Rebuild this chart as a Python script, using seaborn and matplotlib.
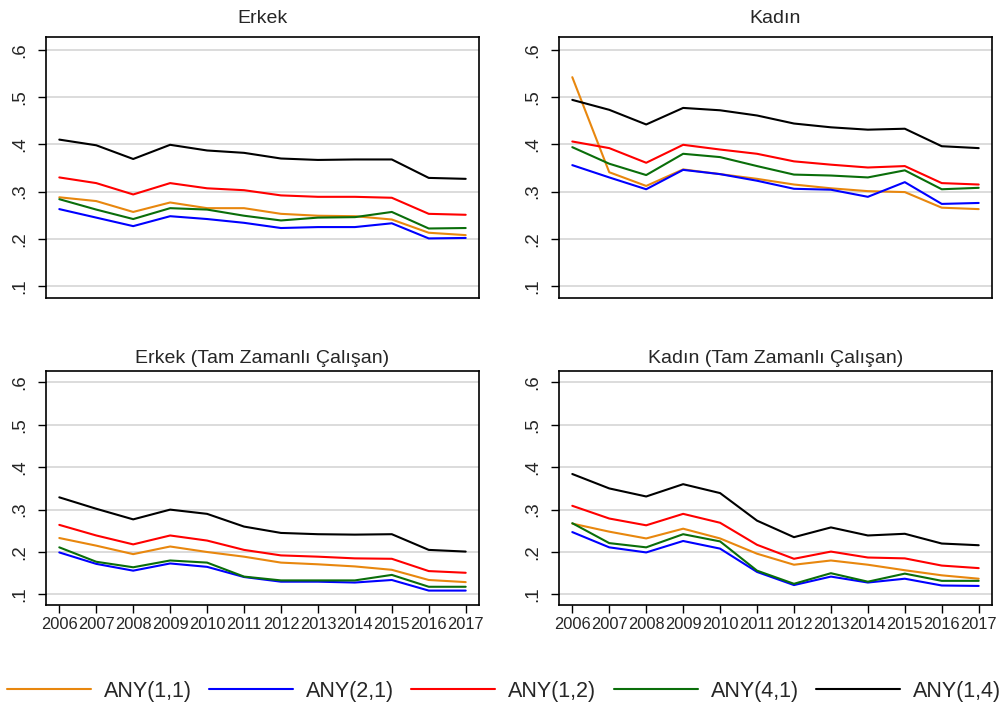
import pandas as pd
import matplotlib
matplotlib.use("Agg")
import matplotlib.pyplot as plt
import seaborn as sns

# Yillar ve seriler
years = list(range(2006, 2018))
series_labels = ["ANY(1,1)", "ANY(2,1)", "ANY(1,2)", "ANY(4,1)", "ANY(1,4)"]
series_colors = ["#E8870E", "#0000FF", "#FF0000", "#0A6E0A", "#000000"]
panel_titles = ["Erkek", "Kadın", "Erkek (Tam Zamanlı Çalışan)", "Kadın (Tam Zamanlı Çalışan)"]
y_ticks = [0.1, 0.2, 0.3, 0.4, 0.5, 0.6]
y_tick_labels = [".1", ".2", ".3", ".4", ".5", ".6"]

# Erkek
erkek_11 = [0.288, 0.280, 0.257, 0.277, 0.265, 0.265, 0.253, 0.249, 0.248, 0.241, 0.213, 0.208]
erkek_21 = [0.263, 0.245, 0.227, 0.248, 0.242, 0.234, 0.223, 0.225, 0.225, 0.233, 0.201, 0.202]
erkek_12 = [0.330, 0.318, 0.294, 0.318, 0.307, 0.303, 0.292, 0.289, 0.289, 0.287, 0.253, 0.251]
erkek_41 = [0.284, 0.262, 0.242, 0.265, 0.262, 0.249, 0.239, 0.245, 0.246, 0.257, 0.222, 0.223]
erkek_14 = [0.410, 0.398, 0.369, 0.399, 0.387, 0.382, 0.370, 0.367, 0.368, 0.368, 0.329, 0.327]

# Kadın
kadin_11 = [0.542, 0.341, 0.312, 0.347, 0.337, 0.327, 0.315, 0.307, 0.301, 0.299, 0.266, 0.263]
kadin_21 = [0.356, 0.330, 0.305, 0.346, 0.337, 0.323, 0.306, 0.304, 0.289, 0.320, 0.274, 0.276]
kadin_12 = [0.406, 0.392, 0.361, 0.399, 0.389, 0.380, 0.364, 0.357, 0.351, 0.354, 0.318, 0.315]
kadin_41 = [0.394, 0.359, 0.335, 0.380, 0.373, 0.354, 0.336, 0.334, 0.330, 0.345, 0.305, 0.308]
kadin_14 = [0.494, 0.473, 0.442, 0.477, 0.472, 0.461, 0.444, 0.436, 0.431, 0.433, 0.396, 0.392]

# Erkek (Tam Zamanlı)
erkek_tz_11 = [0.233, 0.215, 0.195, 0.213, 0.200, 0.189, 0.175, 0.171, 0.166, 0.158, 0.134, 0.129]
erkek_tz_21 = [0.199, 0.172, 0.156, 0.173, 0.165, 0.141, 0.130, 0.130, 0.128, 0.134, 0.109, 0.109]
erkek_tz_12 = [0.264, 0.239, 0.218, 0.239, 0.227, 0.205, 0.192, 0.189, 0.185, 0.184, 0.155, 0.151]
erkek_tz_41 = [0.211, 0.177, 0.164, 0.180, 0.175, 0.142, 0.133, 0.133, 0.133, 0.146, 0.118, 0.118]
erkek_tz_14 = [0.329, 0.302, 0.277, 0.300, 0.290, 0.260, 0.245, 0.242, 0.241, 0.242, 0.205, 0.201]

# Kadın (Tam Zamanlı)
kadin_tz_11 = [0.267, 0.248, 0.232, 0.255, 0.232, 0.196, 0.170, 0.180, 0.170, 0.157, 0.145, 0.137]
kadin_tz_21 = [0.247, 0.211, 0.199, 0.226, 0.208, 0.153, 0.122, 0.142, 0.128, 0.137, 0.121, 0.120]
kadin_tz_12 = [0.309, 0.279, 0.263, 0.290, 0.269, 0.217, 0.184, 0.201, 0.187, 0.185, 0.168, 0.162]
kadin_tz_41 = [0.268, 0.221, 0.211, 0.242, 0.225, 0.156, 0.125, 0.150, 0.130, 0.149, 0.132, 0.132]
kadin_tz_14 = [0.384, 0.350, 0.331, 0.360, 0.339, 0.274, 0.235, 0.258, 0.239, 0.243, 0.220, 0.216]

panel_series = [
    [erkek_11, erkek_21, erkek_12, erkek_41, erkek_14],
    [kadin_11, kadin_21, kadin_12, kadin_41, kadin_14],
    [erkek_tz_11, erkek_tz_21, erkek_tz_12, erkek_tz_41, erkek_tz_14],
    [kadin_tz_11, kadin_tz_21, kadin_tz_12, kadin_tz_41, kadin_tz_14],
]

rows = []
for title, series in zip(panel_titles, panel_series):
    for lab, vals in zip(series_labels, series):
        for yr, v in zip(years, vals):
            rows.append({"panel": title, "series": lab, "year": yr, "value": v})
df = pd.DataFrame(rows)

sns.set_theme(style="white")
plt.rcParams["font.family"] = ["Liberation Sans", "DejaVu Sans"]

fig = plt.figure(figsize=(10.08, 7.08), dpi=100)
W, H = 1008, 708
# pannello: (sinistra, alto, larghezza, altezza) in pixel
boxes = [(46, 37, 433, 261), (559, 37, 433, 261), (46, 371, 433, 234), (559, 371, 433, 234)]
palette = dict(zip(series_labels, series_colors))

handles, labels = None, None
for i, (title, box) in enumerate(zip(panel_titles, boxes)):
    l, t, w, h = box
    ax = fig.add_axes([l / W, 1 - (t + h) / H, w / W, h / H])
    sub = df[df["panel"] == title]
    sns.lineplot(data=sub, x="year", y="value", hue="series", hue_order=series_labels,
                 palette=palette, linewidth=1.5, ax=ax, legend=(i == 0))
    if i == 0:
        handles, labels = ax.get_legend_handles_labels()
        ax.get_legend().remove()
    ax.set_xlim(2005.64, 2017.36)
    ax.set_ylim(0.075, 0.627)
    ax.set_yticks(y_ticks)
    ax.set_yticklabels(y_tick_labels, rotation=90, va="center", fontsize=13.5)
    ax.yaxis.grid(True, color="#DCDCDC", linewidth=1.4)
    ax.set_axisbelow(True)
    ax.set_xlabel("")
    ax.set_ylabel("")
    ax.tick_params(axis="y", length=5.5, width=1.0, color="black", pad=7, left=True)
    if i < 2:
        ax.set_xticks([])
        ax.set_title(title, fontsize=14, pad=10)
    else:
        ax.set_xticks(years)
        ax.set_xticklabels([str(y) for y in years], fontsize=11.8)
        ax.tick_params(axis="x", length=5.5, width=1.0, color="black", pad=3, bottom=True)
        ax.set_title(title, fontsize=14, pad=6)
    for sp in ax.spines.values():
        sp.set_color("black")
        sp.set_linewidth(1.2)

leg = fig.legend(handles, labels, loc="center", bbox_to_anchor=(0.5, 1 - 691 / H), ncol=5,
                 frameon=False, fontsize=15.5, handlelength=3.9, handletextpad=0.6,
                 columnspacing=0.8)
for line in leg.get_lines():
    line.set_linewidth(1.5)

fig.savefig("out.png", dpi=100)
